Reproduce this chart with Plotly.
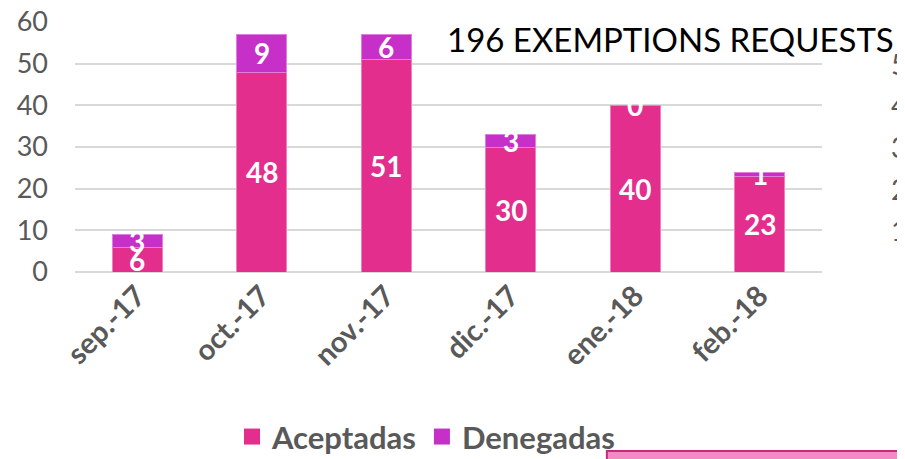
import plotly.graph_objects as go

categories = ["sep.-17", "oct.-17", "nov.-17", "dic.-17", "ene.-18", "feb.-18"]
aceptadas = [6, 48, 51, 30, 40, 23]
denegadas = [3, 9, 6, 3, 0, 1]
y_ticks = [0, 10, 20, 30, 40, 50, 60]
title_text = "196 EXEMPTIONS REQUESTS"
side_labels = ["60", "50", "40", "30", "20", "10"]
side_values = [62, 50, 40, 30, 20, 10]

C_ACE = "#E32E8E"
C_DEN = "#C630C9"
GRAY = "#595959"
FONT = "Lato"

fig = go.Figure()
fig.add_trace(go.Bar(x=categories, y=aceptadas, name="Aceptadas", legendgroup="a", showlegend=False,
                     marker=dict(color=C_ACE, line=dict(color="#F07FBE", width=1))))
fig.add_trace(go.Bar(x=categories, y=denegadas, name="Denegadas", legendgroup="d", showlegend=False,
                     marker=dict(color=C_DEN, line=dict(color="#E07FE0", width=1))))
# legend entries with larger square swatches
fig.add_trace(go.Scatter(x=[None], y=[None], mode="markers", name="Aceptadas", legendgroup="a",
                         marker=dict(symbol="square", size=17, color=C_ACE)))
fig.add_trace(go.Scatter(x=[None], y=[None], mode="markers", name="Denegadas", legendgroup="d",
                         marker=dict(symbol="square", size=17, color=C_DEN)))

annotations = []
for c, a, d in zip(categories, aceptadas, denegadas):
    annotations.append(dict(x=c, y=a / 2, text=str(a), showarrow=False,
                            font=dict(family=FONT, size=28, color="white", weight="bold")))
    annotations.append(dict(x=c, y=a + d / 2, text=str(d), showarrow=False,
                            font=dict(family=FONT, size=28, color="white", weight="bold")))

annotations.append(dict(xref="paper", yref="paper", x=0.797, y=0.93, text=title_text,
                        showarrow=False, xanchor="center", yanchor="middle",
                        font=dict(family=FONT, size=33, color="black")))

for i, (lbl, v) in enumerate(zip(side_labels, side_values)):
    annotations.append(dict(xref="paper", yref="y", x=1.09, y=v, text=lbl,
                            showarrow=False, xanchor="left", yanchor="middle",
                            font=dict(family=FONT, size=28, color="black" if i == 0 else GRAY)))

# page body adds an 8px offset; the figure is sized to fill the rest of the window
fig.update_layout(
    width=897, height=451,
    margin=dict(l=67, r=83, t=14, b=187, autoexpand=False),
    paper_bgcolor="white", plot_bgcolor="white",
    barmode="stack", bargap=0.6,
    font=dict(family=FONT, color=GRAY),
    showlegend=True,
    legend=dict(orientation="h", traceorder="normal",
                xref="container", yref="container",
                x=0.466, y=0.049, xanchor="center", yanchor="middle",
                font=dict(family=FONT, size=31, color=GRAY, weight="bold"),
                itemwidth=30, itemsizing="trace", tracegroupgap=0, bgcolor="rgba(0,0,0,0)"),
    xaxis=dict(tickangle=-45, tickfont=dict(family=FONT, size=29, color=GRAY, weight="bold"),
               showgrid=False, showline=False, ticks="", zeroline=False, automargin=False),
    yaxis=dict(range=[0, 60], tickvals=y_ticks, ticktext=[str(t) for t in y_ticks],
               tickfont=dict(family=FONT, size=27, color=GRAY), ticklabeloverflow="allow",
               showgrid=True, gridcolor="#D9D9D9", gridwidth=2,
               zeroline=True, zerolinecolor="#D9D9D9", zerolinewidth=2,
               showline=False, ticks="", ticklabelstandoff=26, automargin=False),
    annotations=annotations,
    shapes=[dict(type="rect", xref="paper", yref="paper", x0=0.712, x1=1.2, y0=-0.716, y1=-0.9,
                 fillcolor="#F08CC3", line=dict(color="#C8287D", width=2), layer="above")],
)

fig.write_html("out.html")
